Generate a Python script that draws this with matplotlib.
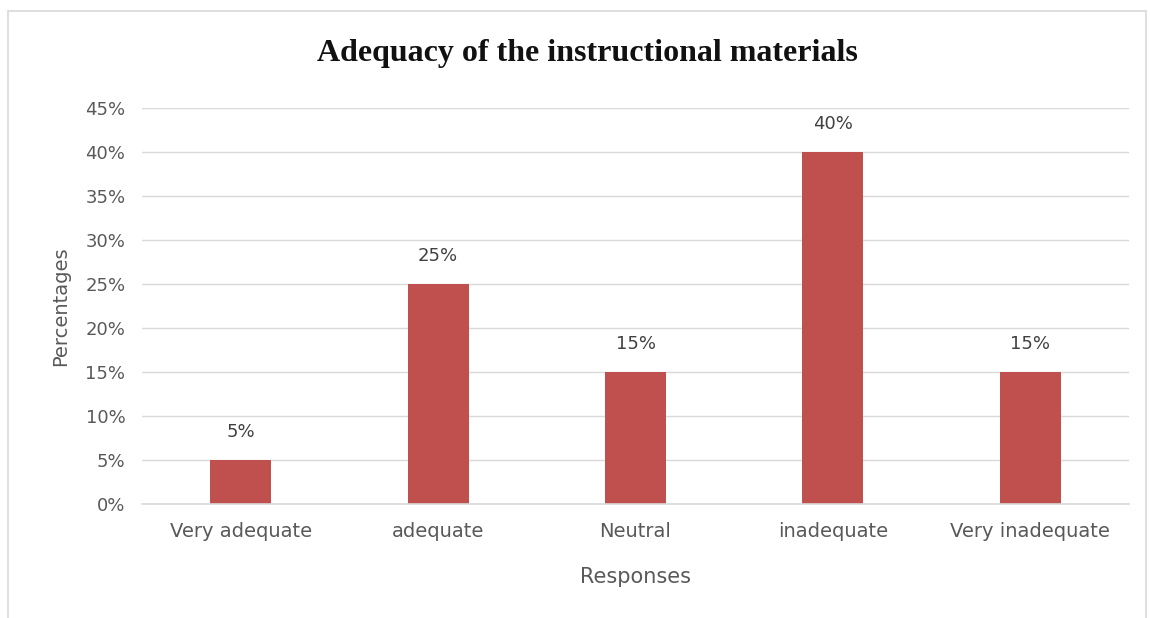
import matplotlib
matplotlib.use("Agg")
import matplotlib.pyplot as plt
from matplotlib.patches import Rectangle
from matplotlib.ticker import FuncFormatter

categories = ["Very adequate", "adequate", "Neutral", "inadequate", "Very inadequate"]
values = [5, 25, 15, 40, 15]
yticks = [0, 5, 10, 15, 20, 25, 30, 35, 40, 45]

W, H = 1150, 618
FONT = "DejaVu Sans"
fig = plt.figure(figsize=(W / 100, H / 100), dpi=100)

# light chart border (Excel style)
fig.patches.append(Rectangle((8 / W, -0.1), (1146 - 8) / W, 1.1 - 11 / H,
                             transform=fig.transFigure, fill=False,
                             edgecolor="#d9d9d9", lw=1.2))

ax = fig.add_axes([142 / W, 1 - 504 / H, (1129 - 142) / W, (504 - 108) / H])
x = range(len(categories))
ax.bar(x, values, width=0.31, color="#c0504d", zorder=3)
ax.set_xlim(-0.5, len(categories) - 0.5)
ax.set_ylim(0, 45)
ax.set_yticks(yticks)
ax.yaxis.set_major_formatter(FuncFormatter(lambda v, p: f"{v:.0f}%"))
ax.set_xticks(list(x))
ax.set_xticklabels(categories)

ax.grid(axis="y", color="#d9d9d9", lw=1, zorder=0)
ax.axhline(0, color="#d9d9d9", lw=1.2, zorder=4, clip_on=False)
for s in ax.spines.values():
    s.set_visible(False)
ax.tick_params(length=0, labelsize=13, labelcolor="#595959", pad=12)
ax.tick_params(axis="x", labelsize=14, pad=13)
for lab in ax.get_xticklabels() + ax.get_yticklabels():
    lab.set_family(FONT)

for xi, v in zip(x, values):
    ax.annotate(f"{v}%", (xi, v), xytext=(0, 14), textcoords="offset points",
                ha="center", va="bottom", fontsize=13, color="#404040",
                family=FONT)

fig.text(587 / W, 1 - 53 / H, "Adequacy of the instructional materials",
         ha="center", va="center", fontsize=23, fontweight="bold",
         family="Liberation Serif", color="#111111")
fig.text(61 / W, 1 - 306 / H, "Percentages", rotation=90, ha="center",
         va="center", fontsize=14, color="#595959", family=FONT)
fig.text(636 / W, 1 - 577 / H, "Responses", ha="center", va="center",
         fontsize=15, color="#595959", family=FONT)

fig.savefig("out.png", dpi=100, facecolor="white")
